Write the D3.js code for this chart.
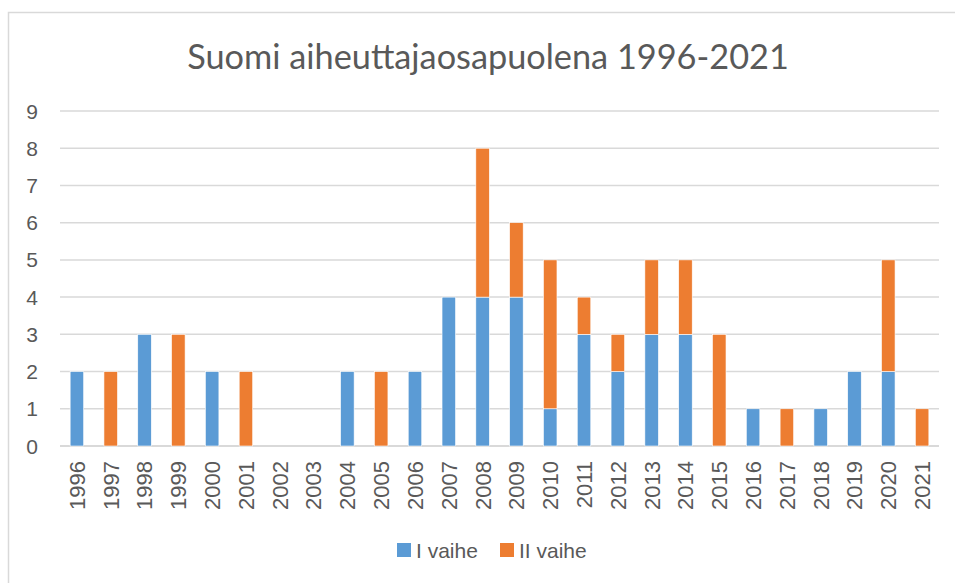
<!DOCTYPE html>
<html>
<head>
<meta charset="utf-8">
<script src="https://cdn.jsdelivr.net/npm/d3@7"></script>
<style>
  body { margin: 0; background: #fff; }
  text { font-family: "Liberation Sans", Arial, sans-serif; fill: #595959; }
  .title { font-family: Lato, "Liberation Sans", sans-serif; }
</style>
</head>
<body>
<svg id="chart" width="955" height="583"></svg>
<script>
// data
const years = ["1996","1997","1998","1999","2000","2001","2002","2003","2004","2005","2006","2007","2008",
               "2009","2010","2011","2012","2013","2014","2015","2016","2017","2018","2019","2020","2021"]
const vaiheI  = [2,0,3,0,2,0,0,0,2,0,2,4,4,4,1,3,2,3,3,0,1,0,1,2,2,0]
const vaiheII = [0,2,0,3,0,2,0,0,0,2,0,0,4,2,4,1,1,2,2,3,0,1,0,0,3,1]
const seriesNames = ["I vaihe", "II vaihe"]
const colors = ["#5B9BD5", "#ED7D31"]
const yTicks = [0,1,2,3,4,5,6,7,8,9]

const svg = d3.select("#chart")

// chart frame (cut off at right and bottom like the screenshot)
svg.append("rect")
  .attr("x", 8.5).attr("y", 12.5)
  .attr("width", 1000).attr("height", 1000)
  .attr("fill", "#fff")
  .attr("stroke", "#D9D9D9")
  .attr("stroke-width", 1.5)

const plot = { left: 60, right: 939, top: 111, bottom: 446 }

const x = d3.scaleBand()
  .domain(years)
  .range([plot.left, plot.right])
  .paddingInner(0.6)
  .paddingOuter(0.3)

const y = d3.scaleLinear()
  .domain([0, 9])
  .range([plot.bottom, plot.top])

// gridlines
svg.append("g")
  .selectAll("line")
  .data(yTicks)
  .enter()
  .append("line")
  .attr("x1", plot.left).attr("x2", plot.right)
  .attr("y1", d => y(d)).attr("y2", d => y(d))
  .attr("stroke", "#D9D9D9")
  .attr("stroke-width", d => d === 0 ? 2 : 1.5)

// y axis labels
svg.append("g")
  .selectAll("text")
  .data(yTicks)
  .enter()
  .append("text")
  .attr("x", 38)
  .attr("y", d => y(d))
  .attr("dy", "0.36em")
  .attr("text-anchor", "end")
  .style("font-size", "21px")
  .text(d => d)

// stacked bars
const rows = years.map((yr, i) => ({ year: yr, "I vaihe": vaiheI[i], "II vaihe": vaiheII[i] }))
const stacked = d3.stack().keys(seriesNames)(rows)

svg.append("g")
  .selectAll("g")
  .data(stacked)
  .enter()
  .append("g")
  .attr("fill", (d, i) => colors[i])
  .selectAll("rect")
  .data(d => d.filter(s => s[1] > s[0]))
  .enter()
  .append("rect")
  .attr("x", d => x(d.data.year))
  .attr("width", x.bandwidth())
  .attr("y", d => y(d[1]))
  .attr("height", d => y(d[0]) - y(d[1]))
  .attr("stroke", "#fff")
  .attr("stroke-width", 0.6)

// x axis labels, rotated
svg.append("g")
  .selectAll("text")
  .data(years)
  .enter()
  .append("text")
  .attr("transform", d => `translate(${x(d) + x.bandwidth() / 2},461) rotate(-90)`)
  .attr("dy", "0.36em")
  .attr("text-anchor", "end")
  .style("font-size", "22px")
  .text(d => d)

// title, sized to the width it has in the original
const title = svg.append("text")
  .attr("class", "title")
  .attr("x", 488)
  .attr("y", 69)
  .attr("text-anchor", "middle")
  .style("font-size", "34px")
  .text("Suomi aiheuttajaosapuolena 1996-2021")
const tw = title.node().getComputedTextLength()
title.style("font-size", (34 * 602 / tw).toFixed(1) + "px")

// legend
const legendPos = [397, 500]
const legend = svg.append("g")
  .selectAll("g")
  .data(seriesNames)
  .enter()
  .append("g")
  .attr("transform", (d, i) => `translate(${legendPos[i]},543)`)

legend.append("rect")
  .attr("width", 14).attr("height", 14)
  .attr("fill", (d, i) => colors[i])

legend.append("text")
  .attr("x", 19)
  .attr("y", 7)
  .attr("dy", "0.36em")
  .style("font-size", "21px")
  .text(d => d)
</script>
</body>
</html>
